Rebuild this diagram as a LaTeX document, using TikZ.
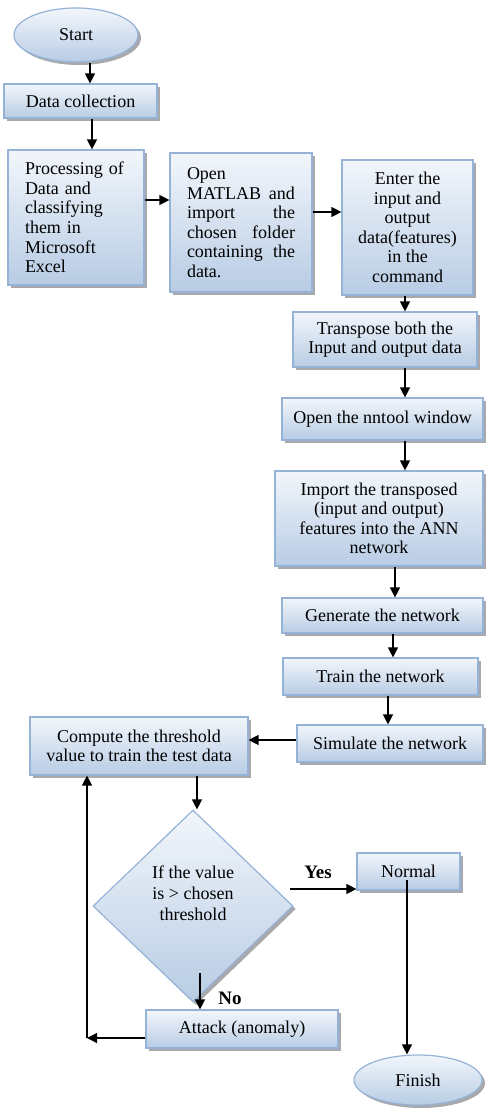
\documentclass[tikz,border=0pt]{standalone}
\usepackage{fontspec}
\setmainfont{Liberation Serif}
\usetikzlibrary{shapes.geometric,shadows,arrows.meta,calc}
\definecolor{bordc}{RGB}{149,179,215}
\definecolor{topc}{RGB}{242,246,251}
\definecolor{botc}{RGB}{184,204,228}
\definecolor{shadc}{RGB}{140,140,145}
\begin{document}
\begin{tikzpicture}[x=1pt,y=-1pt,
  every node/.style={font=\fontsize{18}{19.5}\selectfont},
  fbox/.style={draw=bordc, line width=1.2pt, top color=topc, bottom color=botc,
    drop shadow={shadow xshift=3pt,shadow yshift=-3pt,fill=shadc,opacity=0.75},
    inner sep=0pt},
  arr/.style={line width=1.3pt, -{Triangle[length=10pt,width=10pt]}},
  lbl/.style={font=\bfseries\fontsize{19}{20}\selectfont, inner sep=0pt}
]
\useasboundingbox (0,0) rectangle (485,1108);

\node[fbox, ellipse, minimum width=124pt, minimum height=54pt] (start) at (76,35) {Start};
\node[fbox, minimum width=153pt, minimum height=34pt] (dc) at (80.5,101) {Data collection};
\node[fbox, minimum height=135pt, inner xsep=17pt, text width=102pt, align=left] (proc) at (76,217.5)
  {Processing of\\Data and\\classifying\\them in\\Microsoft\\Excel};
\node[fbox, minimum height=139pt, inner xsep=17pt, text width=108pt, align=left] (matlab) at (241,222.5)
  {Open\\\makebox[108pt]{MATLAB\hfill and}\\\makebox[108pt]{import\hfill the}\\\makebox[108pt]{chosen\hfill folder}\\\makebox[108pt]{containing\hfill the}\\data.};
\node[fbox, minimum width=131pt, minimum height=135pt, align=center] (enter) at (407.5,227.5)
  {Enter the\\input and\\output\\data(features)\\in the\\command};
\node[fbox, minimum width=184pt, minimum height=55pt, align=center] (trans) at (385,339.5)
  {Transpose both the\\Input and output data};
\node[fbox, minimum width=201pt, minimum height=42pt] (nntool) at (382.5,419) {Open the nntool window};
\node[fbox, minimum width=208pt, minimum height=95pt, align=center] (import) at (379,518.5)
  {Import the transposed\\(input and output)\\features into the ANN\\network};
\node[fbox, minimum width=201pt, minimum height=35pt] (gen) at (382.5,615.5) {Generate the network};
\node[fbox, minimum width=195pt, minimum height=37pt] (train) at (380.5,676.5) {Train the network};
\node[fbox, minimum width=186pt, minimum height=37pt] (sim) at (390,743.5) {Simulate the network};
\node[fbox, minimum width=218pt, minimum height=58pt, align=center] (comp) at (139,746)
  {Compute the threshold\\value to train the test data};
\node[fbox, diamond, aspect=1.04, minimum width=200pt, minimum height=192pt,
  label={[yshift=13pt,align=center,font=\fontsize{18}{21}\selectfont]center:If the value\\is > chosen\\threshold}] (dia) at (193,906) {};
\node[fbox, minimum width=103pt, minimum height=37pt] (normal) at (408.5,871.5) {Normal};
\node[fbox, minimum width=192pt, minimum height=38pt] (attack) at (242,1029) {Attack (anomaly)};
\node[fbox, ellipse, minimum width=128pt, minimum height=50pt] (finish) at (418,1080) {Finish};

\node[lbl] (yes) at (318,872) {Yes};
\node[lbl] (no) at (230,998) {No};

% free connector ends
\coordinate (lp) at (87,1038);
\coordinate (yesS) at ([xshift=-4pt,yshift=17pt]dia.east);
\coordinate (noS) at ([xshift=7pt,yshift=-67pt]dia.center);
\coordinate (normS) at ([xshift=-1.5pt,yshift=-8.5pt]normal.center);
\coordinate (attS) at ([yshift=-9pt]attack.west);

% connectors
\draw[arr] ([xshift=14pt]start.south) -- ([xshift=14pt]start.south |- dc.north);
\draw[arr] ([xshift=11.5pt]dc.south) -- ([xshift=11.5pt]dc.south |- proc.north);
\draw[arr] ([yshift=17.5pt]proc.east) -- ([yshift=17.5pt]proc.east -| matlab.west);
\draw[arr] ([yshift=10.5pt]matlab.east) -- ([yshift=10.5pt]matlab.east -| enter.west);
\draw[arr] ([xshift=-2.5pt]enter.south) -- ([xshift=-2.5pt]enter.south |- trans.north);
\draw[arr] ([xshift=20pt]trans.south) -- ([xshift=20pt]trans.south |- nntool.north);
\draw[arr] ([xshift=22.5pt]nntool.south) -- ([xshift=22.5pt]nntool.south |- import.north);
\draw[arr] ([xshift=16pt]import.south) -- ([xshift=16pt]import.south |- gen.north);
\draw[arr] ([xshift=10.5pt]gen.south) -- ([xshift=10.5pt]gen.south |- train.north);
\draw[arr] ([xshift=7.5pt]train.south) -- ([xshift=7.5pt]train.south |- sim.north);
\draw[arr] ([yshift=3.5pt]sim.west) -- ([yshift=3.5pt]sim.west -| comp.east);
\draw[arr] ([xshift=58pt]comp.south) -- ([xshift=58pt]comp.south |- dia.north);
\draw[arr] (yesS) -- (yesS -| normal.west);
\draw[arr] (normS) -- (normS |- finish.north);
\draw[arr] (noS) -- (noS |- attack.north);
\draw[arr] (attS) -- (lp);
\draw[arr] (lp) -- (lp |- comp.south);
\end{tikzpicture}
\end{document}
